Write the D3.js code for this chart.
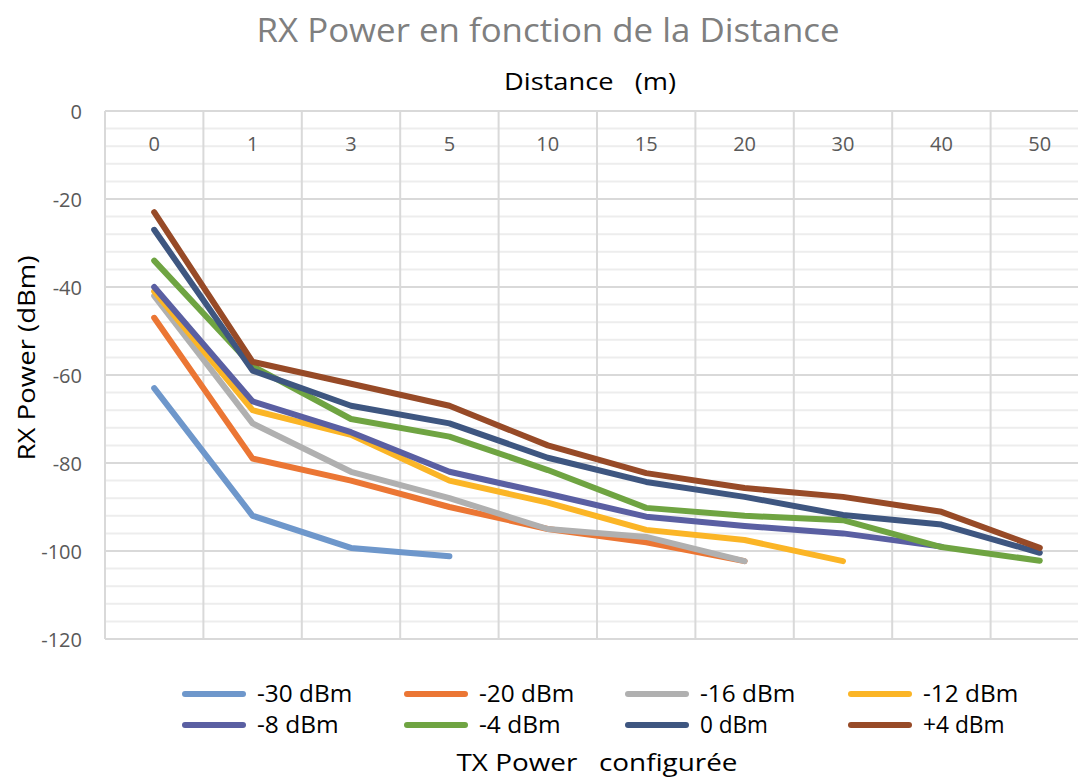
<!DOCTYPE html>
<html>
<head>
<meta charset="utf-8">
<script src="https://cdn.jsdelivr.net/npm/d3@7"></script>
<style>
  html, body { margin: 0; padding: 0; background: #fff; }
  svg { display: block; font-family: "Open Sans", sans-serif; }
</style>
</head>
<body>
<svg id="chart" width="1078" height="780"></svg>
<script>
// ---- Data ----
const distances = ["0", "1", "3", "5", "10", "15", "20", "30", "40", "50"];
const seriesNames = ["-30 dBm", "-20 dBm", "-16 dBm", "-12 dBm", "-8 dBm", "-4 dBm", "0 dBm", "+4 dBm"];
const seriesColors = ["#6E97CB", "#EB7634", "#B0B0B0", "#FBB526", "#5A5FA2", "#6FA442", "#3E5680", "#974A27"];
const txm30 = [-63, -92, -99.3, -101.2];
const txm20 = [-47, -79, -84, -90, -95, -98, -102.3];
const txm16 = [-42, -71, -82, -88, -95, -96.8, -102.3];
const txm12 = [-41, -68, -73.6, -84, -89, -95.2, -97.5, -102.3];
const txm8  = [-40, -66, -73, -82, -87, -92.2, -94.3, -96, -99];
const txm4  = [-34, -58, -70, -74, -81.6, -90.2, -92, -93, -99.1, -102.2];
const tx0   = [-27, -59, -67, -71, -78.8, -84.3, -87.7, -91.8, -94, -100.4];
const txp4  = [-23, -57, -62, -67, -76, -82.3, -85.7, -87.7, -91.1, -99.3];
const yTicks = [0, -20, -40, -60, -80, -100, -120];
const yMinorTicks = d3.range(0, -121, -4);

const allSeries = [txm30, txm20, txm16, txm12, txm8, txm4, tx0, txp4];

// ---- Layout ----
const svg = d3.select("#chart");
const plot = { left: 105, right: 1089, top: 111, bottom: 639 };

const x = d3.scaleBand().domain(distances).range([plot.left, plot.right]).padding(0);
const y = d3.scaleLinear().domain([0, -120]).range([plot.top, plot.bottom]);

// minor horizontal gridlines
svg.append("g").selectAll("line").data(yMinorTicks.filter(v => v % 20 !== 0)).join("line")
  .attr("x1", plot.left).attr("x2", plot.right)
  .attr("y1", d => y(d)).attr("y2", d => y(d))
  .attr("stroke", "#EDEDED").attr("stroke-width", 2);

// major horizontal gridlines
svg.append("g").selectAll("line").data(yTicks).join("line")
  .attr("x1", plot.left).attr("x2", plot.right)
  .attr("y1", d => y(d)).attr("y2", d => y(d))
  .attr("stroke", "#D9D9D9").attr("stroke-width", 2);

// vertical gridlines (category boundaries)
const boundaries = distances.map(d => x(d)).concat([plot.right]);
svg.append("g").selectAll("line").data(boundaries).join("line")
  .attr("x1", d => d).attr("x2", d => d)
  .attr("y1", plot.top).attr("y2", plot.bottom)
  .attr("stroke", "#D9D9D9").attr("stroke-width", 2);

// y axis labels
const yAxis = d3.axisLeft(y).tickValues(yTicks).tickSize(0).tickPadding(0).tickFormat(d => String(d));
const yg = svg.append("g").attr("transform", `translate(82,0)`).call(yAxis);
yg.select(".domain").remove();
yg.selectAll("text").attr("font-size", 20).attr("fill", "#595959")
  .attr("font-family", "'Open Sans', sans-serif").attr("dy", "0.35em");

// x axis labels (at top, below 0 line)
const xAxis = d3.axisBottom(x).tickSize(0).tickPadding(0);
const xg = svg.append("g").attr("transform", `translate(0,${y(0) + 33})`).call(xAxis);
xg.select(".domain").remove();
xg.selectAll("text").attr("font-size", 20).attr("fill", "#595959")
  .attr("font-family", "'Open Sans', sans-serif").attr("dy", "0.35em");

// lines
const line = d3.line()
  .x((d, i) => x(distances[i]) + x.bandwidth() / 2)
  .y(d => y(d));

svg.append("g").selectAll("path").data(allSeries).join("path")
  .attr("d", d => line(d))
  .attr("fill", "none")
  .attr("stroke", (d, i) => seriesColors[i])
  .attr("stroke-width", 6)
  .attr("stroke-linecap", "round")
  .attr("stroke-linejoin", "round");

// titles
svg.append("text").attr("x", 548).attr("y", 42).attr("text-anchor", "middle")
  .attr("font-size", 32).attr("fill", "#7F7F7F")
  .attr("textLength", 583).attr("lengthAdjust", "spacingAndGlyphs")
  .text("RX Power en fonction de la Distance");

svg.append("text").attr("x", 590).attr("y", 90).attr("text-anchor", "middle")
  .attr("font-size", 24).attr("fill", "#000")
  .attr("textLength", 172).attr("lengthAdjust", "spacingAndGlyphs")
  .attr("xml:space", "preserve")
  .text("Distance   (m)");

svg.append("text")
  .attr("transform", "translate(35,358) rotate(-90)")
  .attr("text-anchor", "middle")
  .attr("font-size", 24).attr("fill", "#000")
  .attr("textLength", 205).attr("lengthAdjust", "spacingAndGlyphs")
  .text("RX Power (dBm)");

svg.append("text").attr("x", 597).attr("y", 771).attr("text-anchor", "middle")
  .attr("font-size", 24).attr("fill", "#000")
  .attr("textLength", 281).attr("lengthAdjust", "spacingAndGlyphs")
  .attr("xml:space", "preserve")
  .text("TX Power   configurée");

// legend
const legendCols = [185, 407, 628, 851];
const legendRows = [694, 725];
const leg = svg.append("g").selectAll("g").data(seriesNames).join("g")
  .attr("transform", (d, i) => `translate(${legendCols[i % 4]},${legendRows[Math.floor(i / 4)]})`);
leg.append("line").attr("x1", 0).attr("x2", 58).attr("y1", 0).attr("y2", 0)
  .attr("stroke", (d, i) => seriesColors[i]).attr("stroke-width", 6).attr("stroke-linecap", "round");
leg.append("text").attr("x", 72).attr("y", 0).attr("dy", "0.36em")
  .attr("font-size", 23).attr("fill", "#000")
  .attr("textLength", d => d.length * 13.6).attr("lengthAdjust", "spacingAndGlyphs")
  .text(d => d);
</script>
</body>
</html>
